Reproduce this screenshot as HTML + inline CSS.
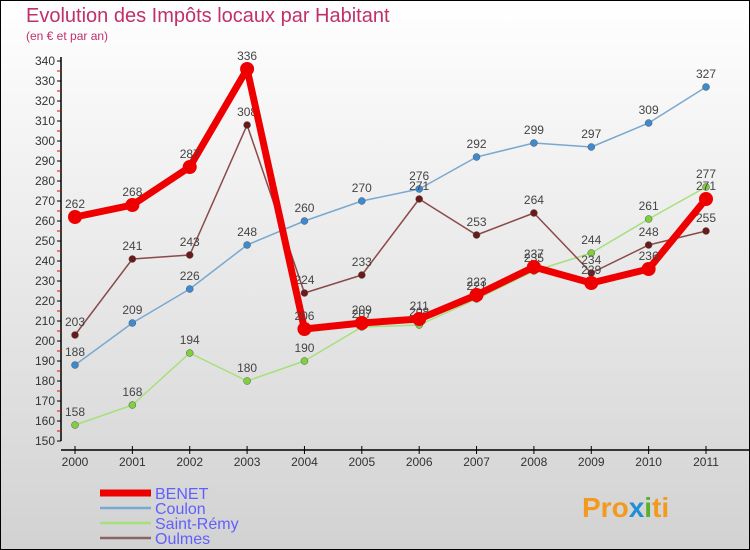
<!DOCTYPE html>
<html><head><meta charset="utf-8"><style>
html,body{margin:0;padding:0}
body{width:750px;height:550px;overflow:hidden;font-family:"Liberation Sans",sans-serif}
svg{display:block}
</style></head><body>
<svg id="chart" width="750" height="550">
<defs><linearGradient id="bg" x1="0" y1="0" x2="0" y2="1"><stop offset="0" stop-color="#ffffff"/><stop offset="1" stop-color="#d2d2d2"/></linearGradient></defs>
<rect x="0.5" y="0.5" width="749" height="549" fill="url(#bg)" stroke="#000"/>
<text x="26" y="22" font-size="20" fill="#c0306a">Evolution des Impôts locaux par Habitant</text>
<text x="26" y="40" font-size="12" fill="#c0306a">(en € et par an)</text>
<g id="axes"></g><g id="series"></g><g id="legend"></g>
<text x="582" y="517" font-size="28" font-weight="bold" fill="#f39a1e">Pro<tspan fill="#1f8fd6">x</tspan><tspan fill="#5ab031">i</tspan>ti</text>
</svg>
<script>
const years = ["2000","2001","2002","2003","2004","2005","2006","2007","2008","2009","2010","2011"];
const yTicks = [150,160,170,180,190,200,210,220,230,240,250,260,270,280,290,300,310,320,330,340];
const benet = [262,268,287,336,206,209,211,223,237,229,236,271];
const coulon = [188,209,226,248,260,270,276,292,299,297,309,327];
const saintRemy = [158,168,194,180,190,207,208,221,235,244,261,277];
const oulmes = [203,241,243,308,224,233,271,253,264,234,248,255];
const NS="http://www.w3.org/2000/svg";
function X(i){return 75+i*(706-75)/11;}
function Y(v){return 61+(340-v)*2;}
function el(tag,attrs,parent){const e=document.createElementNS(NS,tag);for(const k in attrs)e.setAttribute(k,attrs[k]);parent.appendChild(e);return e;}
const axes=document.getElementById('axes');
let a=el('line',{x1:61,y1:Y(340)-4,x2:61,y2:Y(150),stroke:'#000','stroke-width':1.5},axes);


yTicks.forEach(v=>{
  el('line',{x1:57,y1:Y(v),x2:61,y2:Y(v),stroke:'#000'},axes);
  if(v<340)el('line',{x1:57,y1:Y(v+5),x2:61,y2:Y(v+5),stroke:'#e00'},axes);
  const t=el('text',{x:55,y:Y(v)+4,'text-anchor':'end','font-size':12,fill:'#333'},axes);t.textContent=v;
  
  
});
a=el('line',{x1:61,y1:450,x2:750,y2:450,stroke:'#000','stroke-width':1.5},axes);


years.forEach((y,i)=>{
  el('line',{x1:X(i),y1:446,x2:X(i),y2:454,stroke:'#000'},axes);
  const t=el('text',{x:X(i),y:466,'text-anchor':'middle','font-size':12,fill:'#333'},axes);t.textContent=y;
  
  
});
const ser=document.getElementById('series');
function draw(vals,color,w,r,dot,name){
  const g=el('g',{},ser);
  
  
  el('polyline',{points:vals.map((v,i)=>X(i)+','+Y(v)).join(' '),fill:'none',stroke:color,'stroke-width':w,'stroke-linejoin':'round'},g);
  vals.forEach((v,i)=>{
    const c=el('circle',{cx:X(i),cy:Y(v),r:r,fill:dot,stroke:w>3?'none':'#555','stroke-width':0.5},g);
    
    
    const t=el('text',{x:X(i),y:Y(v)-9,'text-anchor':'middle','font-size':12,fill:'#444'},g);t.textContent=v;
    
    
  });
}
draw(saintRemy,'#a6e07a',1.5,3.5,'#7fd03c','saint-remy');
draw(coulon,'#79a8d0',1.5,3.5,'#3d8ad0','coulon');
draw(oulmes,'#8a4a4a',1.5,3.5,'#6b1a1a','oulmes');
draw(benet,'#ee0000',7,7,'#ee0000','benet');
const leg=document.getElementById('legend');
[['BENET','#ee0000',7],['Coulon','#79a8d0',2.5],['Saint-Rémy','#a6e07a',2.5],['Oulmes','#8a6464',2.5]].forEach((d,i)=>{
  const yy=[493,508,523,538][i];
  const g=el('g',{},leg);
  
  
  el('line',{x1:100,y1:yy,x2:151,y2:yy,stroke:d[1],'stroke-width':d[2]},g);
  const t=el('text',{x:155,y:yy+6,'font-size':16,fill:'#6060ff'},g);t.textContent=d[0];
});
</script>
</body></html>
